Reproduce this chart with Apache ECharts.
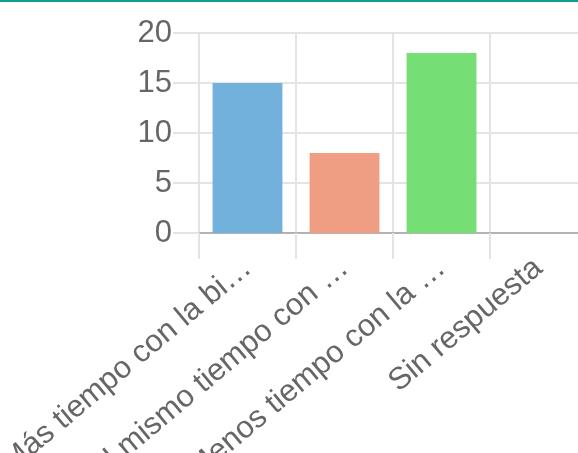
<!DOCTYPE html>
<html>
<head>
<meta charset="utf-8">
<script src="https://cdn.jsdelivr.net/npm/echarts@6/dist/echarts.min.js"></script>
<style>
html,body{margin:0;padding:0;background:#fff;}
#chart{width:578px;height:453px;}
</style>
</head>
<body>
<div id="chart"></div>
<script>
const categories = ["Más tiempo con la bi\u2026", "El mismo tiempo con \u2026", "Menos tiempo con la \u2026", "Sin respuesta"];
const values = [15, 8, 18, 0];
const yTicks = [0, 5, 10, 15, 20];

const palette = ["#72b1dc", "#f09e83", "#75de75", "#c9cbcf"];
const font = "'Liberation Sans', Arial, sans-serif";
const gridColor = "#e4e4e4";

const chart = echarts.init(document.getElementById('chart'), null, {renderer: 'canvas'});
chart.setOption({
  animation: false,
  backgroundColor: '#ffffff',
  graphic: [{
    type: 'rect', left: 0, top: 0,
    shape: {width: 578, height: 2},
    style: {fill: '#0a9e96'}
  }],
  grid: {left: 199, top: 33, width: 388, height: 200, containLabel: false, outerBoundsMode: 'none'},
  xAxis: {
    type: 'category',
    data: categories,
    boundaryGap: true,
    axisLine: {show: true, lineStyle: {color: '#b3b3b3', width: 2}},
    axisTick: {show: true, length: 26, lineStyle: {color: gridColor, width: 2}},
    splitLine: {show: true, lineStyle: {color: gridColor, width: 2}},
    axisLabel: {
      interval: 0, rotate: 40, margin: 31,
      fontSize: 31, fontFamily: font, color: '#666666'
    }
  },
  yAxis: {
    type: 'value',
    min: yTicks[0], max: yTicks[yTicks.length - 1], interval: 5,
    axisLine: {show: false},
    axisTick: {show: true, length: 26, lineStyle: {color: gridColor, width: 2}},
    splitLine: {show: true, lineStyle: {color: gridColor, width: 2}},
    axisLabel: {margin: 27, fontSize: 31, fontFamily: font, color: '#666666'}
  },
  series: [{
    type: 'bar',
    data: values,
    barWidth: '72%',
    itemStyle: {color: p => palette[p.dataIndex]}
  }]
});
</script>
</body>
</html>
